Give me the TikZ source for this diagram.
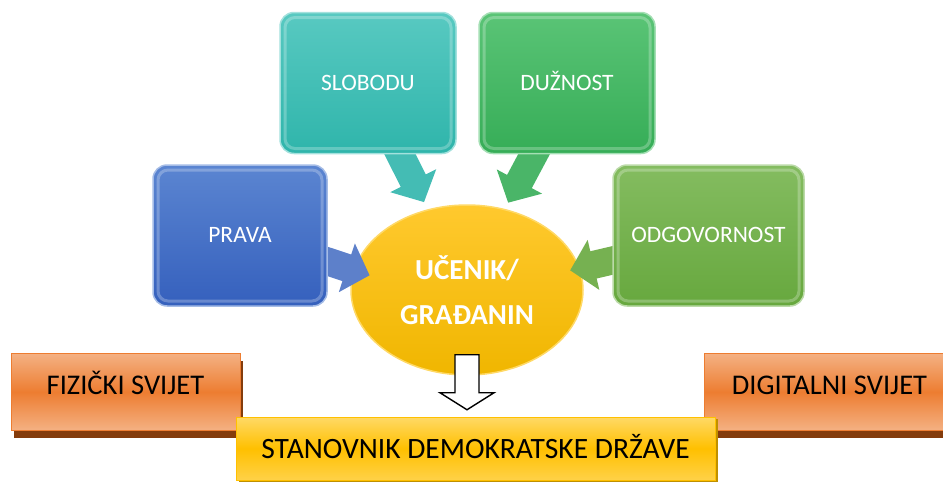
\documentclass[tikz,border=0pt]{standalone}
\usepackage{fontspec}
\setmainfont{Carlito}
\usetikzlibrary{arrows.meta,shapes.geometric,backgrounds,shadows}

\definecolor{pravaTop}{HTML}{5B85D1}
\definecolor{pravaBot}{HTML}{3560BD}
\definecolor{slobTop}{HTML}{58C9C1}
\definecolor{slobBot}{HTML}{2FB5AB}
\definecolor{duzTop}{HTML}{5AC476}
\definecolor{duzBot}{HTML}{36AD57}
\definecolor{odgTop}{HTML}{84BC60}
\definecolor{odgBot}{HTML}{67A83E}
\definecolor{citTop}{HTML}{FFC92E}
\definecolor{citBot}{HTML}{F0B600}
\definecolor{orTop}{HTML}{F4B183}
\definecolor{orMid}{HTML}{ED7D31}
\definecolor{orShadow}{HTML}{843C0C}
\definecolor{yeTop}{HTML}{FFD966}
\definecolor{yeMid}{HTML}{FFC000}
\definecolor{yeEdge}{HTML}{BF9000}

\tikzset{
    valuebox/.style 2 args={rounded corners=14pt, minimum height=141pt, inner sep=0pt,
        top color=#1, bottom color=#2, draw=#1!55!white, line width=1.5pt,
        text=white, font=\fontsize{23.5}{28}\selectfont, text height=15pt, text depth=1pt,
        path picture={\draw[white, opacity=.25, line width=3pt, rounded corners=10pt]
            ([shift={(5pt,-5pt)}]path picture bounding box.north west) rectangle
            ([shift={(-5pt,5pt)}]path picture bounding box.south east);}},
    worldbox/.style={minimum height=77pt, inner sep=0pt, top color=orTop, bottom color=orTop,
        middle color=orMid, draw=orMid, line width=1pt, font=\fontsize{28.5}{32}\selectfont,
        text height=18pt, text depth=14pt,
        drop shadow={opacity=1, fill=orShadow, shadow xshift=3pt, shadow yshift=-7pt}},
    flow/.style={line width=28pt, -{Triangle[length=24pt,width=50pt]}},
    downarrow/.style={draw=black, line width=1.4pt, fill=white, line join=miter},
}

\begin{document}
\begin{tikzpicture}[x=1pt,y=-1pt]
    \useasboundingbox (0,0) rectangle (943,482);
    % the four values
    \node (slob) at (368,83) [valuebox={slobTop}{slobBot}, minimum width=176pt] {SLOBODU};
    \node (duz) at (567,83) [valuebox={duzTop}{duzBot}, minimum width=176pt] {DUŽNOST};
    \node (prava) at (240,235.5) [valuebox={pravaTop}{pravaBot}, minimum width=174pt] {PRAVA};
    \node (odg) at (708.5,235.5) [valuebox={odgTop}{odgBot}, minimum width=191pt] {ODGOVORNOST};
    \begin{scope}[on background layer]
    \node (cit) at (467,290) [ellipse, minimum width=232pt, minimum height=170pt, inner sep=0pt,
        top color=citTop, bottom color=citBot, draw=yeTop, line width=1.5pt, align=center,
        text=white, font=\bfseries\fontsize{29}{45}\selectfont] {UČENIK/\\GRAĐANIN};
    % block arrows into the citizen
    \draw[flow, slobBot!90!white, shorten >=8pt, shorten <=-15pt] ([xshift=32pt]slob.south) -- (cit.116);
    \draw[flow, duzBot!90!white, shorten >=7pt, shorten <=-15pt] ([xshift=-33pt]duz.south) -- (cit.65);
    \draw[flow, pravaBot!80!white, shorten >=-17pt, shorten <=-15pt] ([yshift=-26pt]prava.east) -- (cit.170);
    \draw[flow, odgBot!90!white, shorten >=-10pt, shorten <=-15pt] ([yshift=-25pt]odg.west) -- (cit.11);
    \end{scope}
    % the two worlds
    \node (fiz) at (125.5,392) [worldbox, minimum width=229pt] {FIZIČKI SVIJET};
    \node (dig) at (829.5,392) [worldbox, minimum width=251pt] {DIGITALNI SVIJET};
    \node (state) at (475.5,448.5) [minimum width=479pt, minimum height=63pt, inner sep=0pt,
        top color=yeTop, bottom color=yeTop!70!yeMid, middle color=yeMid, draw=yeMid, line width=1pt,
        drop shadow={opacity=1, fill=yeEdge, shadow xshift=3pt, shadow yshift=-2pt},
        text height=19pt, text depth=0pt,
        font=\fontsize{29.5}{32}\selectfont] {STANOVNIK DEMOKRATSKE DRŽAVE};
    % down arrow
    \coordinate (dn) at ([yshift=21pt]cit.south);
    \draw[downarrow] (dn) ++(-12,0) -- ++(24,0) -- ++(0,38) -- ++(15,0) -- ++(-27,17)
        -- ++(-27,-17) -- ++(15,0) -- cycle;
\end{tikzpicture}
\end{document}
